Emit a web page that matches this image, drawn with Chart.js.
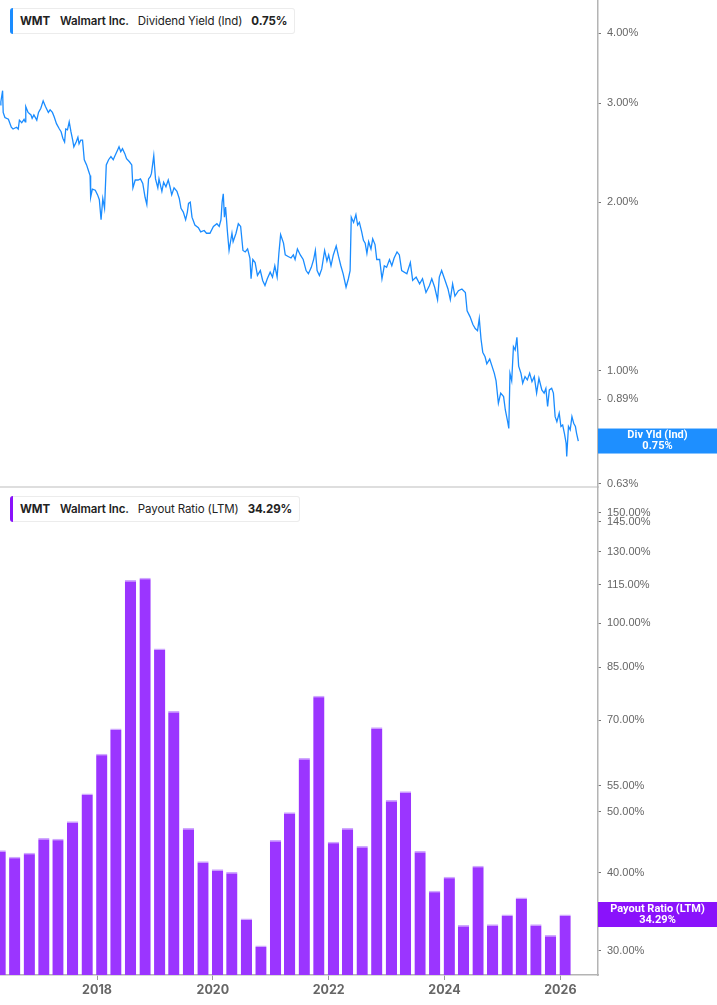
<!DOCTYPE html>
<html>
<head>
<meta charset="utf-8">
<title>WMT Dividend Yield & Payout Ratio</title>
<script src="https://cdn.jsdelivr.net/npm/chart.js@4.4.1/dist/chart.umd.min.js"></script>
<style>
  html, body { margin: 0; padding: 0; background: #fff; }
  body { width: 717px; height: 1005px; position: relative; overflow: hidden; font-family: Inter, "Noto Sans", sans-serif; }
  .pane { position: absolute; left: 0; width: 717px; }
  #topPane { top: 0; height: 488px; }
  #bottomPane { top: 488px; height: 517px; }
  .tag {
    position: absolute; left: 10px; height: 24px; padding: 0 7px 0 10px;
    background: #fff; border: 1px solid #ececec; border-left: none; border-radius: 3px;
    font-size: 11.5px; line-height: 24px; color: #222; white-space: nowrap; z-index: 2;
    letter-spacing: -0.1px;
  }
  .tag::before { content: ""; position: absolute; left: 0; top: -1px; bottom: -1px; width: 3px; border-radius: 3px 0 0 3px; }
  .tag.blue::before { background: #1a8cff; }
  .tag.purple::before { background: #8a12fb; }
  .tag b { font-weight: 700; }
  .tag .co { font-weight: 600; margin-left: 10px; }
  .tag .m { margin-left: 9px; }
  .tag .v { font-weight: 700; margin-left: 9px; }
</style>
</head>
<body>
<div class="tag blue" style="top:8px"><b>WMT</b><span class="co">Walmart Inc.</span><span class="m">Dividend Yield (Ind)</span><span class="v">0.75%</span></div>
<div class="tag purple" style="top:496px"><b>WMT</b><span class="co">Walmart Inc.</span><span class="m">Payout Ratio (LTM)</span><span class="v">34.29%</span></div>
<div class="pane" id="topPane"><canvas id="yieldChart" width="717" height="488"></canvas></div>
<div class="pane" id="bottomPane"><canvas id="payoutChart" width="717" height="517"></canvas></div>
<script>
// dividend yield (%), x in decimal years
const yieldYears = [
  2016.33, 2016.34, 2016.37, 2016.38, 2016.41, 2016.47, 2016.52, 2016.55, 2016.61, 2016.64,
  2016.66, 2016.70, 2016.74, 2016.76, 2016.77, 2016.81, 2016.86, 2016.88, 2016.91, 2016.96,
  2016.99, 2017.03, 2017.07, 2017.11, 2017.16, 2017.19, 2017.23, 2017.26, 2017.30, 2017.35,
  2017.38, 2017.41, 2017.44, 2017.46, 2017.49, 2017.52, 2017.55, 2017.58, 2017.60, 2017.64,
  2017.67, 2017.69, 2017.72, 2017.75, 2017.78, 2017.82, 2017.85, 2017.88, 2017.89, 2017.92,
  2017.97, 2018.01, 2018.04, 2018.07, 2018.10, 2018.13, 2018.16, 2018.20, 2018.24, 2018.28,
  2018.31, 2018.35, 2018.38, 2018.41, 2018.44, 2018.48, 2018.51, 2018.56, 2018.60, 2018.62,
  2018.66, 2018.71, 2018.75, 2018.79, 2018.83, 2018.86, 2018.89, 2018.92, 2018.94, 2018.98,
  2019.01, 2019.05, 2019.07, 2019.12, 2019.15, 2019.19, 2019.23, 2019.26, 2019.29, 2019.33,
  2019.38, 2019.42, 2019.45, 2019.49, 2019.53, 2019.56, 2019.58, 2019.61, 2019.64, 2019.69,
  2019.75, 2019.79, 2019.85, 2019.89, 2019.95, 2020.01, 2020.07, 2020.11, 2020.14, 2020.16,
  2020.18, 2020.20, 2020.22, 2020.25, 2020.28, 2020.33, 2020.35, 2020.40, 2020.44, 2020.48,
  2020.52, 2020.56, 2020.60, 2020.64, 2020.66, 2020.69, 2020.73, 2020.77, 2020.82, 2020.86,
  2020.90, 2020.94, 2020.99, 2021.03, 2021.07, 2021.11, 2021.14, 2021.17, 2021.22, 2021.25,
  2021.30, 2021.35, 2021.39, 2021.42, 2021.46, 2021.51, 2021.56, 2021.61, 2021.65, 2021.70,
  2021.74, 2021.77, 2021.80, 2021.84, 2021.88, 2021.93, 2021.97, 2022.00, 2022.04, 2022.08,
  2022.13, 2022.17, 2022.21, 2022.25, 2022.30, 2022.34, 2022.37, 2022.39, 2022.43, 2022.47,
  2022.50, 2022.53, 2022.57, 2022.60, 2022.63, 2022.66, 2022.69, 2022.73, 2022.76, 2022.80,
  2022.83, 2022.88, 2022.92, 2022.96, 2023.00, 2023.05, 2023.09, 2023.13, 2023.18, 2023.22,
  2023.26, 2023.35, 2023.41, 2023.45, 2023.51, 2023.57, 2023.62, 2023.68, 2023.74, 2023.78,
  2023.83, 2023.88, 2023.91, 2023.95, 2024.01, 2024.06, 2024.10, 2024.14, 2024.18, 2024.24,
  2024.30, 2024.36, 2024.39, 2024.44, 2024.49, 2024.53, 2024.57, 2024.60, 2024.63, 2024.66,
  2024.70, 2024.73, 2024.78, 2024.82, 2024.86, 2024.89, 2024.93, 2024.97, 2025.02, 2025.05,
  2025.09, 2025.11, 2025.13, 2025.16, 2025.19, 2025.22, 2025.25, 2025.28, 2025.32, 2025.35,
  2025.39, 2025.43, 2025.47, 2025.51, 2025.55, 2025.59, 2025.63, 2025.68, 2025.72, 2025.75,
  2025.78, 2025.81, 2025.85, 2025.88, 2025.91, 2025.94, 2025.98, 2026.01, 2026.04, 2026.07,
  2026.10, 2026.11, 2026.14, 2026.17, 2026.20, 2026.23, 2026.26, 2026.28, 2026.31
];
const yieldValues = [
  2.98, 3.02, 3.16, 2.89, 2.83, 2.81, 2.72, 2.70, 2.72, 2.70,
  2.80, 2.77, 2.81, 2.78, 2.96, 2.89, 2.86, 2.82, 2.86, 2.80,
  2.89, 2.94, 3.03, 2.96, 2.89, 2.92, 2.89, 2.84, 2.76, 2.70,
  2.67, 2.60, 2.56, 2.70, 2.69, 2.78, 2.67, 2.58, 2.51, 2.56,
  2.61, 2.54, 2.58, 2.58, 2.38, 2.33, 2.28, 2.23, 2.04, 2.11,
  2.10, 2.06, 2.02, 1.86, 2.03, 1.95, 2.33, 2.38, 2.41, 2.38,
  2.42, 2.47, 2.51, 2.46, 2.49, 2.44, 2.39, 2.36, 2.33, 2.12,
  2.19, 2.19, 2.20, 2.16, 2.04, 1.98, 2.20, 2.22, 2.25, 2.42,
  2.20, 2.12, 2.20, 2.09, 2.17, 2.13, 2.19, 2.13, 2.06, 2.12,
  2.09, 2.03, 1.95, 1.92, 1.86, 1.92, 1.99, 2.00, 1.88, 1.82,
  1.80, 1.77, 1.78, 1.76, 1.76, 1.81, 1.83, 1.81, 1.86, 2.00,
  2.07, 1.88, 1.96, 1.78, 1.64, 1.76, 1.70, 1.76, 1.83, 1.81,
  1.64, 1.63, 1.65, 1.59, 1.46, 1.58, 1.56, 1.48, 1.51, 1.45,
  1.42, 1.46, 1.50, 1.47, 1.54, 1.47, 1.62, 1.75, 1.69, 1.61,
  1.60, 1.59, 1.61, 1.58, 1.65, 1.61, 1.58, 1.51, 1.49, 1.53,
  1.58, 1.64, 1.51, 1.48, 1.52, 1.64, 1.57, 1.61, 1.54, 1.61,
  1.67, 1.60, 1.54, 1.49, 1.41, 1.46, 1.51, 1.88, 1.84, 1.90,
  1.82, 1.84, 1.77, 1.71, 1.69, 1.62, 1.70, 1.65, 1.72, 1.68,
  1.58, 1.58, 1.46, 1.54, 1.53, 1.58, 1.54, 1.59, 1.63, 1.61,
  1.51, 1.49, 1.56, 1.45, 1.47, 1.43, 1.46, 1.38, 1.42, 1.46,
  1.41, 1.34, 1.47, 1.51, 1.45, 1.40, 1.34, 1.43, 1.36, 1.39,
  1.40, 1.38, 1.28, 1.25, 1.21, 1.19, 1.18, 1.24, 1.14, 1.08,
  1.06, 1.03, 1.05, 1.02, 0.99, 0.96, 0.876, 0.913, 0.900, 0.852,
  0.812, 0.790, 0.99, 0.96, 1.105, 1.09, 1.148, 1.02, 0.99, 0.951,
  0.977, 0.964, 0.991, 0.957, 0.977, 0.913, 0.970, 0.925, 0.913, 0.931,
  0.864, 0.925, 0.931, 0.913, 0.829, 0.812, 0.841, 0.796, 0.801, 0.774,
  0.743, 0.704, 0.796, 0.785, 0.829, 0.807, 0.796, 0.774, 0.75
];

// payout ratio (LTM, %) per fiscal quarter end
const payoutDates = [
  "2016-04-30", "2016-07-31", "2016-10-31", "2017-01-31", "2017-04-30", "2017-07-31", "2017-10-31", "2018-01-31",
  "2018-04-30", "2018-07-31", "2018-10-31", "2019-01-31", "2019-04-30", "2019-07-31", "2019-10-31", "2020-01-31",
  "2020-04-30", "2020-07-31", "2020-10-31", "2021-01-31", "2021-04-30", "2021-07-31", "2021-10-31", "2022-01-31",
  "2022-04-30", "2022-07-31", "2022-10-31", "2023-01-31", "2023-04-30", "2023-07-31", "2023-10-31", "2024-01-31",
  "2024-04-30", "2024-07-31", "2024-10-31", "2025-01-31", "2025-04-30", "2025-07-31", "2025-10-31", "2026-01-31"
];
const payoutValues = [
  43.4, 42.4, 43.0, 45.4, 45.3, 48.3, 53.5, 61.9,
  67.9, 117.1, 118.1, 91.1, 72.4, 47.1, 41.7, 40.5,
  40.1, 33.8, 30.6, 45.1, 49.9, 60.9, 76.6, 44.8,
  47.1, 44.1, 68.2, 52.2, 53.9, 43.3, 37.4, 39.4,
  33.0, 41.0, 33.1, 34.3, 36.5, 33.1, 31.8, 34.29
];

const yearTicks = [2018, 2020, 2022, 2024, 2026];
const yieldTicks = [4.0, 3.0, 2.0, 1.0, 0.89, 0.76, 0.63];
const payoutTicks = [150, 145, 130, 115, 100, 85, 70, 55, 50, 40, 30];

const X_MIN = 2016.325;
const X_MAX = 2026.65;
const AXIS_W = 119;

function toYear(s) {
  const d = new Date(s + "T00:00:00Z");
  const y = d.getUTCFullYear();
  const start = Date.UTC(y, 0, 1);
  const len = Date.UTC(y + 1, 0, 1) - start;
  return y + (d.getTime() - start) / len;
}

// no extra room around the plot area, the panes butt against each other
function noPadding(scale) {
  scale.paddingTop = 0;
  scale.paddingBottom = 0;
  scale.paddingLeft = 0;
  scale.paddingRight = 0;
}

// coloured value box at the right edge, on the last value
const valueBadge = {
  id: "valueBadge",
  afterDraw(chart, args, opts) {
    if (!opts || !opts.title) return;
    const { ctx, chartArea } = chart;
    const y = chart.scales.y.getPixelForValue(opts.value);
    const left = chartArea.right;
    const w = chart.width - left;
    const h = 25;
    ctx.save();
    ctx.fillStyle = opts.color;
    ctx.fillRect(left, y - h / 2, w, h);
    ctx.fillStyle = "#fff";
    ctx.font = "bold 11px Roboto, sans-serif";
    ctx.textAlign = "center";
    ctx.textBaseline = "middle";
    ctx.fillText(opts.title, left + w / 2, y - 5.5);
    ctx.fillText(opts.text, left + w / 2, y + 5.5);
    ctx.restore();
  }
};

function rightLogAxis(min, max, tickValues) {
  return {
    type: "logarithmic",
    position: "right",
    bounds: "data",
    min: min,
    max: max,
    afterBuildTicks: (scale) => { scale.ticks = tickValues.map(v => ({ value: v })); },
    afterFit: (scale) => { scale.width = AXIS_W; noPadding(scale); },
    border: { display: true, color: "#b4b4b4", width: 1.5 },
    grid: { display: true, drawOnChartArea: false, drawTicks: true, tickLength: 3, color: "#777", lineWidth: 1 },
    ticks: {
      autoSkip: false,
      padding: 6,
      color: "#666",
      font: { family: "'Liberation Sans', Arial, sans-serif", size: 11 },
      callback: (v) => Number(v).toFixed(2) + "%"
    }
  };
}

window.renderYieldChart = function () {
  const ctx = document.getElementById("yieldChart").getContext("2d");
  const points = yieldYears.map((x, i) => ({ x: x, y: yieldValues[i] }));
  window.yieldChartInstance = new Chart(ctx, {
    type: "line",
    data: {
      datasets: [{
        label: "Dividend Yield (Ind)",
        data: points,
        borderColor: "#1a8cff",
        borderWidth: 1.3,
        pointRadius: 0,
        tension: 0
      }]
    },
    options: {
      responsive: false,
      animation: false,
      layout: { padding: 0, autoPadding: false },
      plugins: {
        legend: { display: false },
        tooltip: { enabled: false },
        valueBadge: { value: 0.75, color: "#1e8fff", title: "Div Yld (Ind)", text: "0.75%" }
      },
      scales: {
        x: {
          type: "linear",
          bounds: "data",
          min: X_MIN,
          max: X_MAX,
          afterFit: (scale) => { scale.height = 1; noPadding(scale); },
          ticks: { display: false },
          grid: { display: false },
          border: { display: true, color: "#dedede", width: 2 }
        },
        y: rightLogAxis(0.621, 4.585, yieldTicks)
      }
    },
    plugins: [valueBadge]
  });
};

window.renderPayoutChart = function () {
  const ctx = document.getElementById("payoutChart").getContext("2d");
  const bars = payoutDates.map((d, i) => ({ x: toYear(d), y: payoutValues[i] }));
  window.payoutChartInstance = new Chart(ctx, {
    type: "bar",
    data: {
      datasets: [{
        label: "Payout Ratio (LTM)",
        data: bars,
        backgroundColor: "#9b35ff",
        borderColor: "#cfa8ff",
        borderWidth: { top: 1.5, left: 0, right: 0, bottom: 0 },
        borderSkipped: "bottom",
        categoryPercentage: 1,
        barPercentage: 0.8
      }]
    },
    options: {
      responsive: false,
      animation: false,
      layout: { padding: 0, autoPadding: false },
      plugins: {
        legend: { display: false },
        tooltip: { enabled: false },
        valueBadge: { value: 34.29, color: "#8a12fb", title: "Payout Ratio (LTM)", text: "34.29%" }
      },
      scales: {
        x: {
          type: "linear",
          bounds: "data",
          offset: false,
          min: X_MIN,
          max: X_MAX,
          afterBuildTicks: (scale) => { scale.ticks = yearTicks.map(v => ({ value: v })); },
          afterFit: (scale) => { scale.height = 30; noPadding(scale); },
          border: { display: true, color: "#b4b4b4", width: 1.5 },
          grid: { display: true, offset: false, drawOnChartArea: false, drawTicks: true, tickLength: 5, color: "#999" },
          ticks: {
            autoSkip: false,
            maxRotation: 0,
            padding: 3,
            color: "#666",
            font: { family: "Inter, sans-serif", size: 12.5, weight: "bold" },
            callback: (v) => String(v)
          }
        },
        y: rightLogAxis(27.46, 164.2, payoutTicks)
      }
    },
    plugins: [valueBadge]
  });
};

window.renderYieldChart();
window.renderPayoutChart();
</script>
</body>
</html>
